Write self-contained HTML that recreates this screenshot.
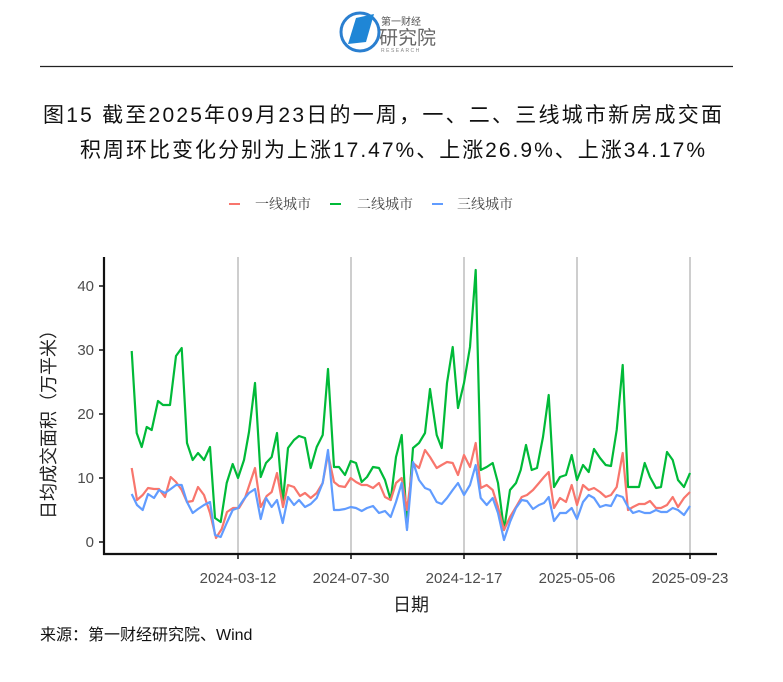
<!DOCTYPE html>
<html><head><meta charset="utf-8"><style>
html,body{margin:0;padding:0;background:#fff;width:783px;height:682px;overflow:hidden}
svg{display:block}
</style></head><body>
<svg width="783" height="682" viewBox="0 0 783 682" xmlns="http://www.w3.org/2000/svg" font-family="'Liberation Sans','Noto Sans CJK SC',sans-serif">
<!-- logo -->
<circle cx="360" cy="32" r="19" fill="none" stroke="#2a7fd0" stroke-width="3"/>
<polygon points="348,44 356,18 374,14 366,42" fill="#1f86d6"/>
<text x="381" y="25" font-size="10" fill="#555">第一财经</text>
<text x="379" y="44" font-size="19" fill="#666">研究院</text>
<text x="381" y="52" font-size="5" fill="#888" letter-spacing="1.5">RESEARCH</text>
<line x1="40" y1="66.5" x2="733" y2="66.5" stroke="#222" stroke-width="1.2"/>
<!-- title -->
<text x="43" y="122" font-size="21" fill="#111" textLength="679" lengthAdjust="spacing">图15  截至2025年09月23日的一周，一、二、三线城市新房成交面</text>
<text x="80" y="157" font-size="21" fill="#111" textLength="625" lengthAdjust="spacing">积周环比变化分别为上涨17.47%、上涨26.9%、上涨34.17%</text>
<!-- legend -->
<g font-family="'Liberation Serif','Noto Serif CJK SC',serif" font-size="14" fill="#444">
<line x1="229" y1="204" x2="240" y2="204" stroke="#F8766D" stroke-width="2"/>
<text x="255" y="209">一线城市</text>
<line x1="330" y1="204" x2="341" y2="204" stroke="#00BA38" stroke-width="2"/>
<text x="357" y="209">二线城市</text>
<line x1="432" y1="204" x2="443" y2="204" stroke="#619CFF" stroke-width="2"/>
<text x="457" y="209">三线城市</text>
</g>
<!-- grid -->
<g stroke="#b3b3b3" stroke-width="1.3">
<line x1="238" y1="257" x2="238" y2="554"/><line x1="351" y1="257" x2="351" y2="554"/><line x1="464" y1="257" x2="464" y2="554"/><line x1="577" y1="257" x2="577" y2="554"/><line x1="690" y1="257" x2="690" y2="554"/>
</g>
<!-- axes -->
<g stroke="#111" stroke-width="2.2">
<line x1="104" y1="257" x2="104" y2="555"/><line x1="103" y1="554" x2="717" y2="554"/>
</g>
<g stroke="#111" stroke-width="1.5">
<line x1="99" y1="286" x2="104" y2="286"/><line x1="99" y1="350" x2="104" y2="350"/><line x1="99" y1="414" x2="104" y2="414"/><line x1="99" y1="478" x2="104" y2="478"/><line x1="99" y1="542" x2="104" y2="542"/>
<line x1="238" y1="554" x2="238" y2="559"/><line x1="351" y1="554" x2="351" y2="559"/><line x1="464" y1="554" x2="464" y2="559"/><line x1="577" y1="554" x2="577" y2="559"/><line x1="690" y1="554" x2="690" y2="559"/>
</g>
<g font-size="15" fill="#4d4d4d" text-anchor="end">
<text x="94" y="291">40</text><text x="94" y="355">30</text><text x="94" y="419">20</text><text x="94" y="483">10</text><text x="94" y="547">0</text>
</g>
<g font-size="15" fill="#4d4d4d" text-anchor="middle">
<text x="238" y="583">2024-03-12</text><text x="351" y="583">2024-07-30</text><text x="464" y="583">2024-12-17</text><text x="577" y="583">2025-05-06</text><text x="690" y="583">2025-09-23</text>
</g>
<text x="411" y="611" font-size="18" fill="#222" text-anchor="middle">日期</text>
<text transform="translate(55,420) rotate(-90)" font-size="18" fill="#222" text-anchor="middle">日均成交面积（万平米）</text>
<text x="40" y="640" font-size="16" fill="#111">来源：第一财经研究院、Wind</text>
<!-- series -->
<g fill="none" stroke-width="2.2" stroke-linejoin="round">
<polyline stroke="#00BA38" points="131.7,351 136.7,433 141.7,447 146.7,427 151.7,430 158,401 163,405 170,405 176,356 181.7,348 187,443 192.7,460 198,453 204,460 210,447 215,518 220.7,522 226.7,483 232.7,464 238,478 244,460 249,432 255,383 260.7,477 266,463 271.7,457 277,433 282.7,503 288,448 294,440 299,436 305,438 310.7,468 316.7,447 322.7,435 328,369 334,467 339,467 345,475 350.7,461 356,463 361.7,482 367,477 373,467 379,468 385,480 390.7,500 396,457 401.7,435 407,528 413,448 419,443 425,433 430,389 436.7,435 441.7,448 447,383 452.7,347 458,408 464,383 470,347 475.7,270 480.7,470 486.7,467 492.7,463 498,483 504,530 510,490 516,483 520.7,470 526,445 531.7,470 537,468 543,437 548.7,395 554,487 560,477 566,475 571.7,455 577,480 583,465 588.7,472 594,449 600,458 605.7,465 611,466 616.7,430 622.7,365 628,487 633,487 639,487 644.7,463 650,477 656,488 661,487 667,452 672.7,460 678,480 684,487 690,473"/>
<polyline stroke="#F8766D" points="131.7,468 137,500 142.7,495 148,488 154,489 159,489 165,497 170.7,477 176,482 181.7,490 187,502 192.7,501 198,487 204,495 210,513 216,538 221.7,529 227,512 233,508 239,508 245,498 250,483 255,468 260.7,507 266.7,496 271.7,492 277,473 283,507 288,485 294,487 300,496 305,493 310.7,498 316.7,493 322.7,483 328,454 334,482 339,486 345,487 350.7,478 356,482 361.7,485 367,485 373,488 379,483 385,497 390.7,500 396,483 401.7,478 407,510 413,463 419,468 425,450 430,457 436.7,468 441.7,465 447,462 452.7,463 458,475 464,455 470,467 475.7,443 480.7,488 486.7,485 492.7,490 498,507 504,530 510,517 516,507 521.7,497 527,495 533,490 539,483 544,477 548.7,472 554,508 560,498 566,502 571.7,485 577,505 583,485 588.7,490 594,488 600,492 605.7,497 611,495 616.7,487 622.7,453 628,510 633,507 639,504 644.7,504 650,501 656,508 661,508 667,505 672.7,497 678,507 684,498 690,492"/>
<polyline stroke="#619CFF" points="131.7,494 137,505 142.7,510 148,494 154,498 159,490 165,493 170.7,489 176,485 181.7,485 187,502 192.7,513 198,509 204,505 210,502 215,535 220.7,537 226.7,523 232.7,510 238,508 244,499 249,493 255,489 260.7,519 266,498 271.7,507 277,500 282.7,523 288,497 294,505 299,500 305,507 310.7,504 316.7,498 322.7,483 328,450 334,510 339,510 345,509 350.7,507 356,508 361.7,511 367,508 373,506 379,513 385,511 390.7,517 396,502 401.7,483 407,530 413,462 419,480 425,488 430,490 436.7,502 441.7,504 447,498 452.7,490 458,483 464,495 470,485 475.7,465 480.7,498 486.7,505 492.7,498 498,513 504,540 510,522 516,508 521.7,500 527,501 533,509 539,505 544,503 548.7,497 554,521 560,513 566,513 571.7,508 577,519 583,502 588.7,495 594,498 600,507 605.7,505 611,506 616.7,495 622.7,497 628,507 633,513 639,511 644.7,513 650,513 656,510 661,512 667,512 672.7,508 678,510 684,515 690,506"/>
</g>
</svg>
</body></html>
